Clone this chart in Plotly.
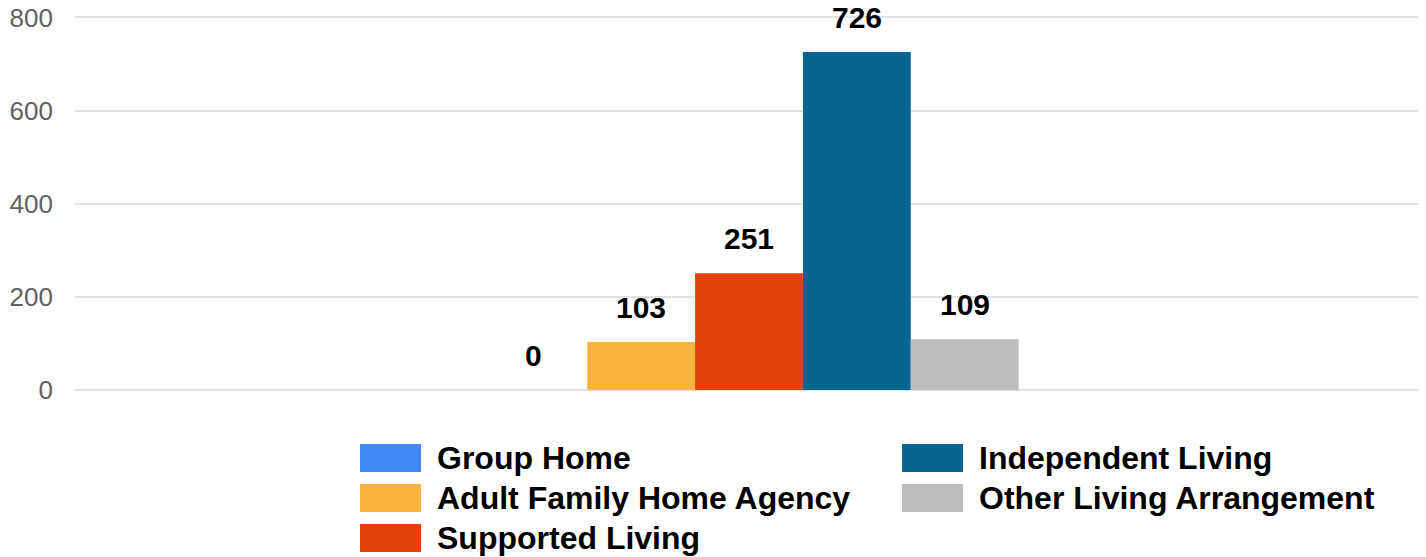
import plotly.graph_objects as go

# ---- data ----
series = ["Group Home", "Adult Family Home Agency", "Supported Living",
          "Independent Living", "Other Living Arrangement"]
values = [0, 103, 251, 726, 109]
colors = ["#4289f1", "#f9b340", "#df420c", "#07658f", "#bdbdbd"]
category = [""]
y_ticks = [0, 200, 400, 600, 800]

# ---- layout constants ----
# the page body adds an 8px offset, so the figure is laid out in page pixels minus 8
OFF = 8
W, H = 1426 - OFF, 557 - OFF
ML, MR, MT, MB = 75 - OFF, 3, 16 - OFF, 167
PW, PH = W - ML - MR, H - MT - MB
Y_MAX = 803.2          # leaves the 800 gridline just inside the plot top
BARGAP = 0.6
FONT = "Liberation Sans, Arial, sans-serif"

fig = go.Figure()
for name, v, c in zip(series, values, colors):
    fig.add_trace(go.Bar(x=category, y=[v], name=name,
                         marker=dict(color=c, line=dict(width=0)),
                         showlegend=False))

# value labels above bars
n = len(series)
bw = (1 - BARGAP) / n
for i, v in enumerate(values):
    fig.add_annotation(x=-(1 - BARGAP) / 2 + bw * (i + 0.5), y=v,
                       xref="x", yref="y", text=f"<b>{v}</b>",
                       showarrow=False, yanchor="bottom", yshift=16,
                       font=dict(family=FONT, size=30, color="#000000"))

# custom legend (two columns, column-major order); positions in page pixels
def px_x(p):
    return (p - OFF - ML) / PW

def px_y(p):
    return (H - MB - (p - OFF)) / PH

col_x = [360, 902]
row_y = [458, 498, 538]
rows = 3
for i, (name, c) in enumerate(zip(series, colors)):
    cx = col_x[i // rows]
    cy = row_y[i % rows]
    fig.add_shape(type="rect", xref="paper", yref="paper",
                  x0=px_x(cx), x1=px_x(cx + 61),
                  y0=px_y(cy + 14), y1=px_y(cy - 14),
                  fillcolor=c, line=dict(width=0))
    fig.add_annotation(xref="paper", yref="paper", x=px_x(cx + 75), y=px_y(cy),
                       xanchor="left", yanchor="middle", showarrow=False,
                       text=f"<b>{name}</b>",
                       font=dict(family=FONT, size=32, color="#000000"))

fig.update_layout(
    width=W, height=H,
    margin=dict(l=ML, r=MR, t=MT, b=MB, pad=0, autoexpand=False),
    paper_bgcolor="white", plot_bgcolor="white",
    barmode="group", bargap=BARGAP, bargroupgap=0,
    font=dict(family=FONT),
    xaxis=dict(type="category", showticklabels=False, showgrid=False,
               zeroline=False, showline=False, fixedrange=True,
               automargin=False),
    yaxis=dict(range=[0, Y_MAX], tickvals=y_ticks, ticks="",
               ticklabelstandoff=21, ticklabeloverflow="allow",
               automargin=False,
               tickfont=dict(family=FONT, size=26, color="#616161"),
               showgrid=True, gridcolor="#e2e2e2", gridwidth=2,
               zeroline=True, zerolinecolor="#e2e2e2", zerolinewidth=2,
               showline=False, fixedrange=True),
    showlegend=False,
)

fig.write_html("out.html")
